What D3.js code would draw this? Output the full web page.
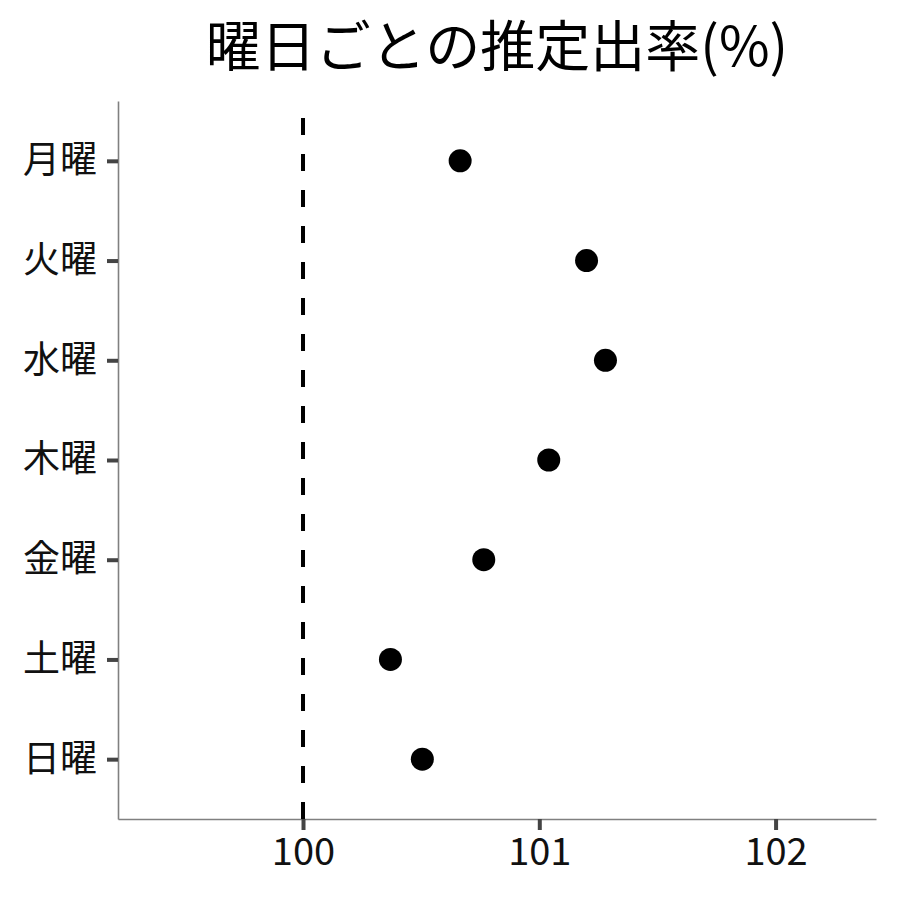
<!DOCTYPE html>
<html>
<head>
<meta charset="utf-8">
<script src="https://cdn.jsdelivr.net/npm/d3@7"></script>
<style>
  body { margin: 0; background: white; }
  text { font-family: "Noto Sans CJK JP", "Noto Sans", sans-serif; }
</style>
</head>
<body>
<div id="chart"></div>
<script>
// data
const days = ["月曜", "火曜", "水曜", "木曜", "金曜", "土曜", "日曜"];
const rates = [100.665, 101.2, 101.28, 101.04, 100.765, 100.37, 100.505];
const xTicks = [100, 101, 102];
const refLine = 100;
const title = "曜日ごとの推定出率(%)";

function drawDayPlot(containerId) {
  const W = 900, H = 900;
  const margin = { top: 101, right: 24, bottom: 81, left: 118 },
        width = W - margin.left - margin.right,
        height = H - margin.top - margin.bottom;

  d3.select(`#${containerId}`).html("");

  const svg = d3.select(`#${containerId}`)
      .append("svg")
          .attr("width", W)
          .attr("height", H)
      .append("g")
          .attr("transform", `translate(${margin.left},${margin.top})`);

  const x = d3.scaleLinear()
      .domain([99.217, 102.425])
      .range([0, width]);

  // discrete axis with 0.6 unit expansion like ggplot
  const y = d3.scalePoint()
      .domain(days)
      .range([0, height])
      .padding(0.6);

  // x axis
  const xAxis = svg.append("g")
      .attr("transform", `translate(0,${height})`)
      .call(d3.axisBottom(x).tickValues(xTicks).tickFormat(d3.format("d"))
          .tickSize(11).tickSizeOuter(0).tickPadding(8));
  xAxis.select(".domain").attr("stroke", "#808080").attr("stroke-width", 1.6);
  xAxis.selectAll(".tick line").attr("stroke", "#444").attr("stroke-width", 4);
  xAxis.selectAll(".tick text")
      .attr("fill", "#111")
      .style("font-size", "38px")
      .style("font-family", "'Noto Sans CJK JP', sans-serif");

  // y axis
  const yAxis = svg.append("g")
      .call(d3.axisLeft(y).tickSize(11).tickSizeOuter(0).tickPadding(10));
  yAxis.select(".domain").attr("stroke", "#808080").attr("stroke-width", 1.6);
  yAxis.selectAll(".tick line").attr("stroke", "#444").attr("stroke-width", 4);
  yAxis.selectAll(".tick text")
      .attr("fill", "#111")
      .style("font-size", "37px")
      .style("font-family", "'Noto Sans CJK JP', sans-serif");

  // reference line (drawn bottom to top)
  svg.append("line")
      .attr("x1", x(refLine))
      .attr("x2", x(refLine))
      .attr("y1", height)
      .attr("y2", 0)
      .attr("stroke", "black")
      .attr("stroke-width", 4)
      .attr("stroke-dasharray", "17,19");

  // points
  svg.append("g")
      .selectAll("circle")
      .data(days.map((d, i) => ({ day: d, value: rates[i] })))
      .join("circle")
          .attr("cx", d => x(d.value))
          .attr("cy", d => y(d.day))
          .attr("r", 11.5)
          .attr("fill", "black");

  // title
  svg.append("text")
      .attr("x", width / 2)
      .attr("y", -35)
      .attr("text-anchor", "middle")
      .style("font-size", "55px")
      .style("font-family", "'Noto Sans CJK JP', sans-serif")
      .attr("fill", "black")
      .text(title);
}

drawDayPlot("chart");
</script>
</body>
</html>
